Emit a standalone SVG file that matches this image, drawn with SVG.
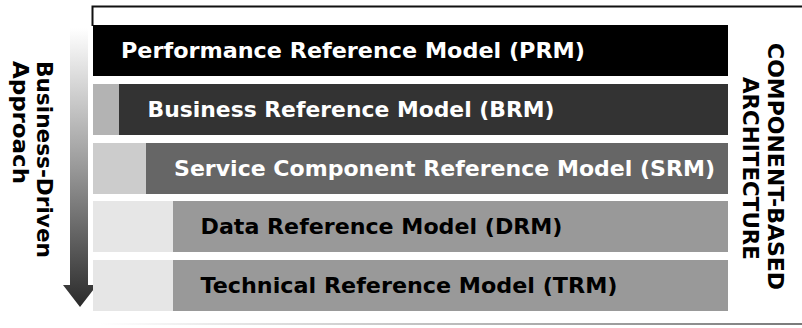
<svg xmlns="http://www.w3.org/2000/svg" width="802" height="328" viewBox="0 0 802 328">
  <defs>
    <linearGradient id="arrowGrad" x1="0" y1="28" x2="0" y2="307" gradientUnits="userSpaceOnUse">
      <stop offset="0" stop-color="#ffffff"/>
      <stop offset="0.5" stop-color="#999999"/>
      <stop offset="1" stop-color="#2a2a2a"/>
    </linearGradient>
    <linearGradient id="baseGrad" x1="100" y1="0" x2="802" y2="0" gradientUnits="userSpaceOnUse">
      <stop offset="0" stop-color="#ffffff"/>
      <stop offset="1" stop-color="#7a7a7a"/>
    </linearGradient>
  </defs>
  <style>
    text { font-family: "DejaVu Sans", "Open Sans", sans-serif; font-weight: bold; font-size: 21.5px; }
    .w { fill: #ffffff; }
    .k { fill: #000000; }
    .side { fill: #000000; font-size: 21px; }
  </style>

  <!-- frame lines -->
  <g id="frame">
    <path d="M92.5 26 V6.5 H802" fill="none" stroke="#111111" stroke-width="2"/>
    <rect x="100" y="323" width="702" height="2" fill="url(#baseGrad)"/>
  </g>

  <!-- arrow -->
  <g id="arrow">
    <path d="M70 28 H88 V285 H97 L80 307 L63 285 H70 Z" fill="url(#arrowGrad)"/>
  </g>

  <g id="prm">
    <rect x="93" y="25" width="635" height="51" fill="#000000"/>
    <text class="w" x="121" y="57.5" textLength="464" lengthAdjust="spacingAndGlyphs">Performance Reference Model (PRM)</text>
  </g>
  <g id="brm">
    <rect x="93" y="84" width="26" height="51" fill="#b3b3b3"/>
    <rect x="119" y="84" width="609" height="51" fill="#333333"/>
    <text class="w" x="147.5" y="116.5" textLength="407" lengthAdjust="spacingAndGlyphs">Business Reference Model (BRM)</text>
  </g>
  <g id="srm">
    <rect x="93" y="143" width="53" height="51" fill="#cccccc"/>
    <rect x="146" y="143" width="582" height="51" fill="#666666"/>
    <text class="w" x="174" y="175.5" textLength="541" lengthAdjust="spacingAndGlyphs">Service Component Reference Model (SRM)</text>
  </g>
  <g id="drm">
    <rect x="93" y="201" width="80" height="51" fill="#e6e6e6"/>
    <rect x="173" y="201" width="555" height="51" fill="#999999"/>
    <text class="k" x="200.5" y="233.5" textLength="362" lengthAdjust="spacingAndGlyphs">Data Reference Model (DRM)</text>
  </g>
  <g id="trm">
    <rect x="93" y="260" width="80" height="51" fill="#e6e6e6"/>
    <rect x="173" y="260" width="555" height="51" fill="#999999"/>
    <text class="k" x="200.5" y="292.5" textLength="417" lengthAdjust="spacingAndGlyphs">Technical Reference Model (TRM)</text>
  </g>

  <g id="left-label">
    <text class="side" transform="translate(37,61) rotate(90)" textLength="197" lengthAdjust="spacingAndGlyphs">Business-Driven</text>
    <text class="side" transform="translate(13,61) rotate(90)" textLength="123" lengthAdjust="spacingAndGlyphs">Approach</text>
  </g>
  <g id="right-label">
    <text class="side" transform="translate(768,43) rotate(90)" textLength="247" lengthAdjust="spacingAndGlyphs">COMPONENT-BASED</text>
    <text class="side" transform="translate(743,77) rotate(90)" textLength="183" lengthAdjust="spacingAndGlyphs">ARCHITECTURE</text>
  </g>
</svg>
